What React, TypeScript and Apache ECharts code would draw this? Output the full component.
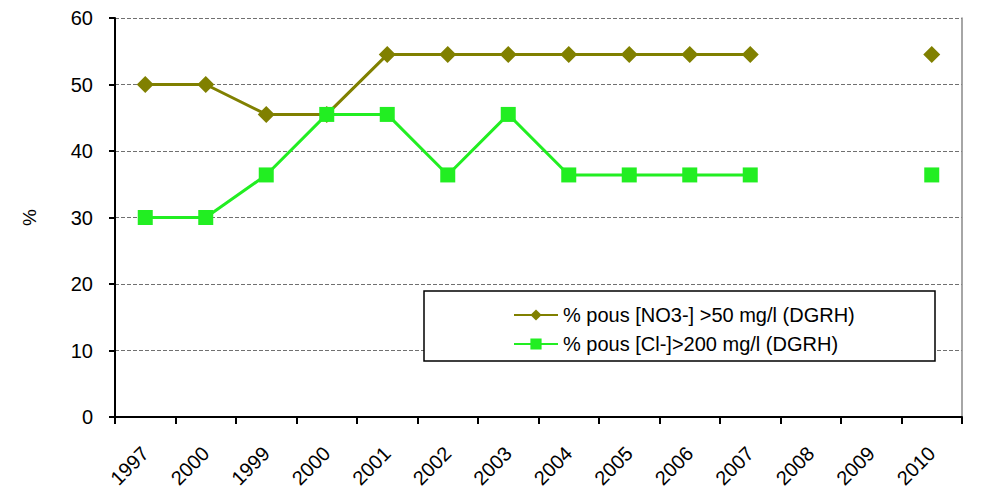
import React, { useEffect, useRef } from "react";
import * as echarts from "echarts";

const categories = ["1997", "2000", "1999", "2000", "2001", "2002", "2003", "2004", "2005", "2006", "2007", "2008", "2009", "2010"];
const no3Values = [50, 50, 45.5, 45.5, 54.5, 54.5, 54.5, 54.5, 54.5, 54.5, 54.5, null, null, 54.5];
const clValues = [30, 30, 36.4, 45.5, 45.5, 36.4, 45.5, 36.4, 36.4, 36.4, 36.4, null, null, 36.4];
const no3Name = "% pous [NO3-] >50 mg/l (DGRH)";
const clName = "% pous [Cl-]>200 mg/l (DGRH)";

export default function App() {
  const ref = useRef<HTMLDivElement>(null);
  useEffect(() => {
    if (!ref.current) return;
    const chart = echarts.init(ref.current, null, { renderer: "svg" });
    const font = "Liberation Sans, Arial, sans-serif";
    chart.setOption({
      animation: false,
      backgroundColor: "#ffffff",
      textStyle: { fontFamily: font },
      grid: { left: 115, right: 31, top: 18, bottom: 84, containLabel: false },
      graphic: [
        {
          type: "rect",
          shape: { x: 424, y: 291, width: 511, height: 70 },
          style: { fill: "#ffffff", stroke: "#000000", lineWidth: 1.5 },
          z: 10,
        },
      ],
      legend: {
        orient: "vertical",
        left: 508,
        top: 300,
        itemWidth: 44,
        itemHeight: 14,
        itemGap: 9,
        z: 20,
        textStyle: { fontSize: 20, color: "#000000", fontFamily: font },
        data: [no3Name, clName],
      },
      xAxis: {
        type: "category",
        data: categories,
        boundaryGap: true,
        axisLine: { lineStyle: { color: "#000000", width: 2 } },
        axisTick: { show: true, length: 7, lineStyle: { color: "#000000", width: 2 } },
        axisLabel: { rotate: 45, fontSize: 20, color: "#000000", margin: 33, interval: 0, fontFamily: font },
        splitLine: { show: false },
      },
      yAxis: [
        {
          type: "value",
          min: 0,
          max: 60,
          interval: 10,
          name: "%",
          nameLocation: "middle",
          nameGap: 76,
          nameRotate: 90,
          nameTextStyle: { fontSize: 19, color: "#000000", fontFamily: font },
          axisLine: { show: true, lineStyle: { color: "#000000", width: 2 } },
          axisTick: { show: true, length: 6, lineStyle: { color: "#000000", width: 2 } },
          axisLabel: { fontSize: 20, color: "#000000", margin: 22, fontFamily: font },
          splitLine: { show: true, lineStyle: { color: "#707070", type: [4, 2], width: 1 } },
        },
        {
          type: "value",
          min: 0,
          max: 60,
          interval: 10,
          position: "right",
          axisLine: { show: true, lineStyle: { color: "#888888", width: 1.5 } },
          axisTick: { show: false },
          axisLabel: { show: false },
          splitLine: { show: false },
        },
      ],
      series: [
        {
          name: no3Name,
          type: "line",
          data: no3Values,
          connectNulls: false,
          symbol: "diamond",
          symbolSize: 17,
          lineStyle: { color: "#808000", width: 3 },
          itemStyle: { color: "#808000" },
          z: 3,
        },
        {
          name: clName,
          type: "line",
          data: clValues,
          connectNulls: false,
          symbol: "rect",
          symbolSize: 15,
          lineStyle: { color: "#22ee22", width: 3 },
          itemStyle: { color: "#22ee22" },
          z: 4,
        },
      ],
    });
    return () => chart.dispose();
  }, []);
  return <div ref={ref} style={{ width: 993, height: 501, position: "absolute", left: 0, top: 0 }} />;
}
